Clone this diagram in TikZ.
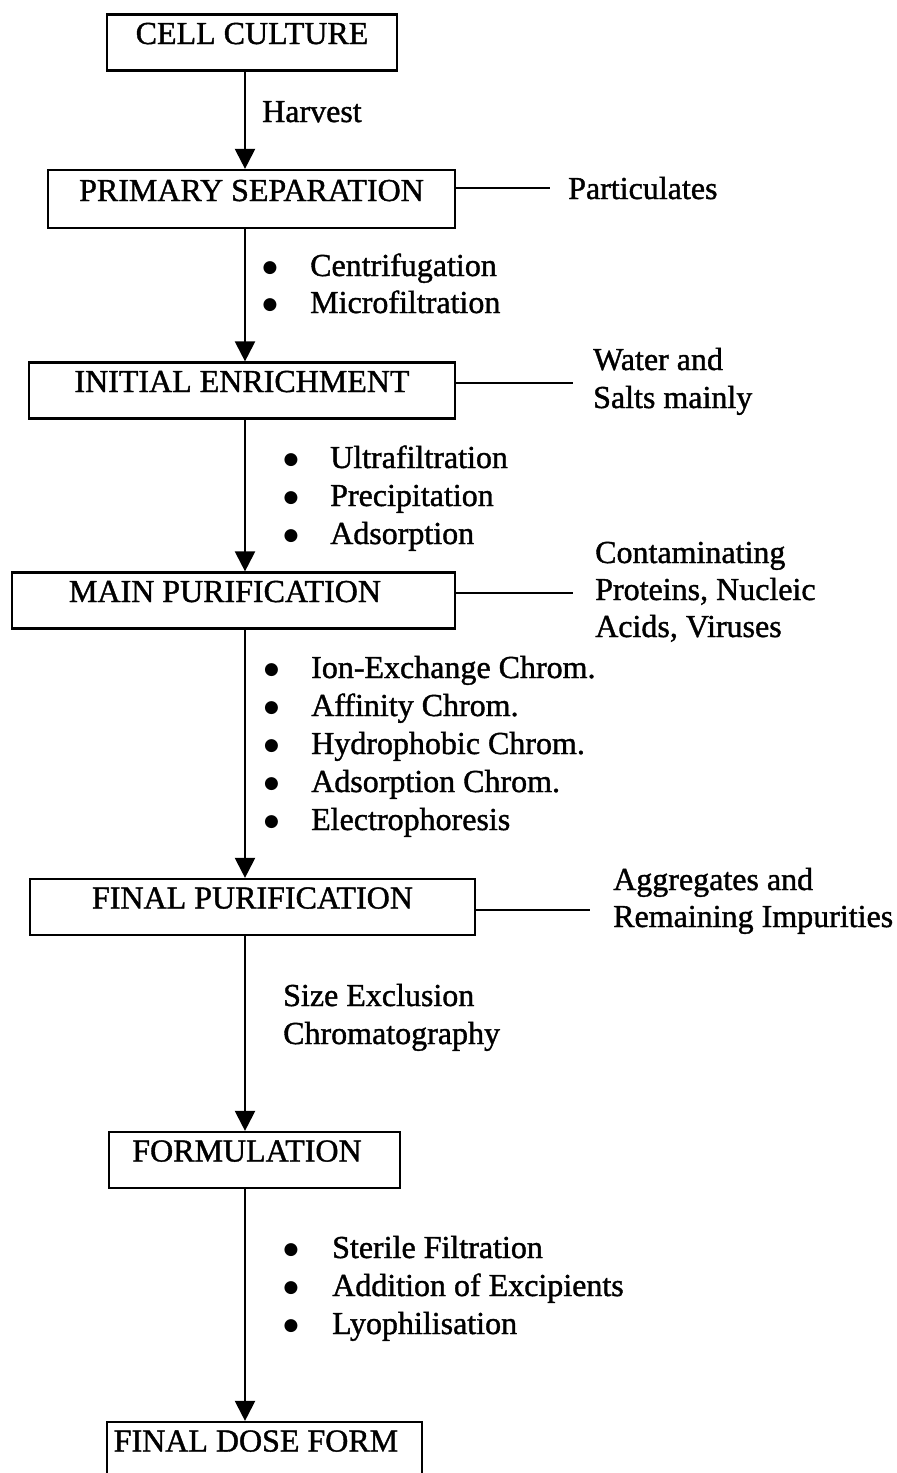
\documentclass[tikz,border=0pt]{standalone}
\usepackage{fontspec}
\setmainfont{Liberation Serif}
\newfontfamily\heavy{Liberation Serif}[FakeBold=1.2]
\newfontfamily\symf{DejaVu Sans}
\newcommand{\bul}[1]{\makebox[#1][l]{\hspace*{1pt}\raisebox{4pt}{\symf\fontsize{17}{17}\selectfont ●}}}
\usetikzlibrary{arrows.meta}
\begin{document}
\begin{tikzpicture}[x=1pt,y=-1pt,
  every node/.style={font=\heavy\fontsize{32}{38}\selectfont, inner sep=0pt},
  box/.style={draw, line width=2.2pt, inner sep=0pt, text height=29.5pt, text depth=26.5pt},
  arr/.style={line width=2.2pt, -{Triangle[length=20pt,width=20pt]}},
  side/.style={line width=2.2pt},
  lbl/.style={anchor=base west},
]
\useasboundingbox (0,0) rectangle (897,1473);
\clip (0,0) rectangle (897,1473);
\fill[white] (0,0) rectangle (897,1473);
\coordinate (col) at (245,0);

% boxes
\node[box, minimum width=290pt, minimum height=55pt] (cell) at (252,42.5) {CELL CULTURE};
\node[box, minimum width=407pt, minimum height=58pt, text height=31pt, text depth=27pt] (prim) at (251.5,199) {PRIMARY SEPARATION};
\node[box, minimum width=426pt, minimum height=55pt] (init) at (242,390.5) {INITIAL ENRICHMENT};
\node[box, minimum width=443pt, minimum height=55pt] (main) at (233.5,600.5) {\hspace*{-17pt}MAIN PURIFICATION};
\node[box, minimum width=445pt, minimum height=56pt] (finp) at (252.5,907) {FINAL PURIFICATION};
\node[box, minimum width=291pt, minimum height=56pt] (form) at (254.5,1160) {\hspace*{-15pt}FORMULATION};
\node[box, minimum width=315pt, minimum height=56pt] (dose) at (264.5,1450) {\hspace*{-17pt}FINAL DOSE FORM};

% vertical arrows
\draw[arr] (cell.south -| col) -- (prim.north -| col);
\draw[arr] (prim.south -| col) -- (init.north -| col);
\draw[arr] (init.south -| col) -- (main.north -| col);
\draw[arr] (main.south -| col) -- (finp.north -| col);
\draw[arr] (finp.south -| col) -- (form.north -| col);
\draw[arr] (form.south -| col) -- (dose.north -| col);

% side outputs
\node[lbl] (part) at (568,199) {Particulates};
\coordinate (pe) at (550,188);
\draw[side] (prim.east |- pe) -- (pe);

\node[lbl] (wat1) at (593,370) {Water and};
\node[lbl] (wat2) at (593,408) {Salts mainly};
\coordinate (we) at (573,383);
\draw[side] (init.east |- we) -- (we);

\node[lbl] (con1) at (595,563) {Contaminating};
\node[lbl] (con2) at (595,600) {Proteins, Nucleic};
\node[lbl] (con3) at (595,637) {Acids, Viruses};
\coordinate (ce) at (573,593);
\draw[side] (main.east |- ce) -- (ce);

\node[lbl] (agg1) at (613,890) {Aggregates and};
\node[lbl] (agg2) at (613,927) {Remaining Impurities};
\coordinate (ae) at (590,910);
\draw[side] (finp.east |- ae) -- (ae);

% step labels
\node[lbl] (harv) at (262,122) {Harvest};

\node[lbl] (s1a) at (261.5,276) {\bul{48.5pt}Centrifugation};
\node[lbl] (s1b) at (261.5,313) {\bul{48.5pt}Microfiltration};

\node[lbl] (s2a) at (282.5,468) {\bul{47.5pt}Ultrafiltration};
\node[lbl] (s2b) at (282.5,506) {\bul{47.5pt}Precipitation};
\node[lbl] (s2c) at (282.5,544) {\bul{47.5pt}Adsorption};

\node[lbl] (s3a) at (263,678) {\bul{48pt}Ion-Exchange Chrom.};
\node[lbl] (s3b) at (263,716) {\bul{48pt}Affinity Chrom.};
\node[lbl] (s3c) at (263,754) {\bul{48pt}Hydrophobic Chrom.};
\node[lbl] (s3d) at (263,792) {\bul{48pt}Adsorption Chrom.};
\node[lbl] (s3e) at (263,830) {\bul{48pt}Electrophoresis};

\node[lbl] (s4a) at (283,1006) {Size Exclusion};
\node[lbl] (s4b) at (283,1044) {Chromatography};

\node[lbl] (s5a) at (282.5,1258) {\bul{49.5pt}Sterile Filtration};
\node[lbl] (s5b) at (282.5,1296) {\bul{49.5pt}Addition of Excipients};
\node[lbl] (s5c) at (282.5,1334) {\bul{49.5pt}Lyophilisation};
\end{tikzpicture}
\end{document}
